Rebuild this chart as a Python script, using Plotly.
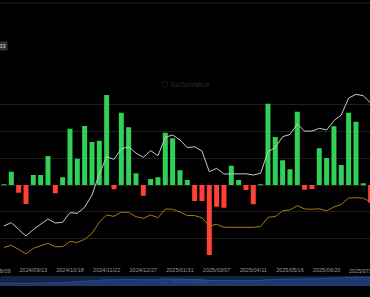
import plotly.graph_objects as go
from datetime import date, timedelta

# ---- data (weekly, Friday dates) ----
start = date(2024, 8, 16)
weeks = [(start + timedelta(days=7 * i)).isoformat() for i in range(51)]

# weekly total net inflow, $M
net_inflow = [26, 498, -288, -712, 375, 375, 1086, -311, 288, 2109,
              985, 2210, 1610, 1659, 3371, -161, 2708, 2161, 438, -401,
              225, 288, 1959, 1749, 551, 187, -599, -599, -2622, -813,
              -850, 723, 187, -187, -723, 19, 3045, 1798, 925, 588,
              2745, -176, -150, 1375, 1011, 2199, 749, 2708, 2371, 64,
              -663]

# total net assets, $B
total_assets = [52.0, 54.4, 49.2, 44.2, 49.2, 53.0, 57.2, 54.1, 54.7, 62.0,
                61.5, 66.1, 75.4, 91.4, 104.5, 102.5, 110.4, 112.1, 107.3, 104.1,
                109.1, 105.3, 119.3, 121.0, 117.2, 111.4, 112.1, 108.8, 93.1, 95.7,
                91.4, 91.4, 91.7, 91.5, 90.6, 91.9, 108.3, 111.5, 119.7, 121.5,
                129.4, 124.0, 124.0, 126.1, 124.8, 131.9, 136.2, 149.1, 151.9, 150.9,
                145.3]

# cumulative total net inflow, $B
cum_inflow = [17.0, 18.4, 15.8, 13.0, 16.5, 17.9, 19.6, 17.5, 17.5, 20.7,
              20.1, 22.1, 25.7, 32.8, 37.2, 36.3, 38.9, 38.8, 36.1, 35.1,
              37.2, 35.4, 40.9, 40.7, 39.0, 36.8, 36.8, 35.4, 30.3, 31.4,
              29.5, 29.5, 29.5, 29.5, 29.5, 30.0, 35.7, 36.2, 39.8, 40.3,
              42.9, 40.9, 40.7, 41.0, 39.8, 42.1, 43.7, 47.7, 47.9, 47.5,
              45.4]

tick_dates = ["2024-09-13", "2024-10-18", "2024-11-22", "2024-12-27", "2025-01-31",
              "2025-03-07", "2025-04-11", "2025-05-16", "2025-06-20"]
tick_labels = [d.replace("-", "/") for d in tick_dates]
left_cut_label = "2024/08/09"
right_cut_label = "2025/07/25"

GREEN = "#31d158"
RED = "#ff4136"
bar_colors = [GREEN if v >= 0 else RED for v in net_inflow]

W, H = 370, 297
def py(px):  # pixel from top -> paper y
    return 1 - px / H

fig = go.Figure()

fig.add_trace(go.Bar(x=weeks, y=net_inflow, marker=dict(color=bar_colors, line=dict(width=0)),
                     name="Weekly Total Net Inflow", xaxis="x", yaxis="y"))
fig.add_trace(go.Scatter(x=weeks, y=total_assets, mode="lines", line=dict(color="#c8c8c8", width=1),
                         name="Total Net Assets", xaxis="x", yaxis="y2"))
fig.add_trace(go.Scatter(x=weeks, y=cum_inflow, mode="lines", line=dict(color="#a97a10", width=1),
                         name="Cumulative Total Net Inflow", xaxis="x", yaxis="y3"))
# navigator
fig.add_trace(go.Scatter(x=weeks, y=total_assets, mode="lines", fill="tozeroy",
                         line=dict(color="#2b5296", width=0.8), fillcolor="#1d3a70",
                         xaxis="x2", yaxis="y4", name="nav"))

xr = ["2024-08-12 04:20", "2025-07-31 10:00"]
main_dom = [py(265.1), py(78.2)]
nav_dom = [py(286), py(276)]

tickfont = dict(size=5.5, color="#9a9a9a", family="Liberation Sans")

fig.update_layout(
    width=W, height=H,
    margin=dict(l=0, r=0, t=0, b=0),
    paper_bgcolor="#000000", plot_bgcolor="#000000",
    showlegend=False, bargap=0.32,
    xaxis=dict(range=xr, type="date", domain=[0, 1], anchor="y",
               tickvals=tick_dates, ticktext=tick_labels, showgrid=False, zeroline=False,
               showline=False, ticks="", tickfont=tickfont),
    yaxis=dict(range=[-3000, 4000], domain=main_dom, tickvals=[-2000, -1000, 0, 1000, 2000, 3000, 4000],
               showticklabels=False, gridcolor="#1f1f1f", gridwidth=1, zeroline=False, showline=False),
    yaxis2=dict(range=[22.13, 164.18], overlaying="y", showgrid=False, showticklabels=False, zeroline=False),
    yaxis3=dict(range=[6.09, 121.97], overlaying="y", showgrid=False, showticklabels=False, zeroline=False),
    xaxis2=dict(range=[weeks[0], weeks[-1]], type="date", domain=[0, 1], anchor="y4",
                showticklabels=False, showgrid=False, zeroline=False),
    yaxis4=dict(range=[0, 170], domain=nav_dom, showticklabels=False, showgrid=False, zeroline=False),
    shapes=[
        dict(type="line", xref="paper", yref="paper", x0=0, x1=1, y0=py(3), y1=py(3),
             line=dict(color="#222222", width=1)),
        dict(type="rect", xref="paper", yref="paper", x0=0, x1=1, y0=nav_dom[0], y1=nav_dom[1],
             fillcolor="#142440", line=dict(width=0), layer="below"),
    ],
    annotations=[
        dict(text=left_cut_label, xref="paper", yref="paper", x=-3.3 / W, y=py(270.5),
             xanchor="center", yanchor="middle", showarrow=False, font=tickfont),
        dict(text=right_cut_label, xref="paper", yref="paper", x=363 / W, y=py(270.5),
             xanchor="center", yanchor="middle", showarrow=False, font=tickfont),
        dict(text="03", xref="paper", yref="paper", x=8 / W, y=py(45.5), xanchor="right", yanchor="middle",
             showarrow=False, bgcolor="#333333", borderpad=1,
             font=dict(size=6, color="#d8d8d8", family="Liberation Sans")),
        dict(text="⬡ SoSoValue", xref="paper", yref="paper", x=0.5, y=py(84), xanchor="center",
             yanchor="middle", showarrow=False, font=dict(size=8, color="#2e2e2e", family="Liberation Sans")),
        dict(text="⬡ SoSoValue", xref="paper", yref="paper", x=0.5, y=py(280), xanchor="center",
             yanchor="middle", showarrow=False, font=dict(size=8, color="rgba(255,255,255,0.12)",
                                                           family="Liberation Sans")),
    ],
)

fig.write_html("out.html", config={"displayModeBar": False})
